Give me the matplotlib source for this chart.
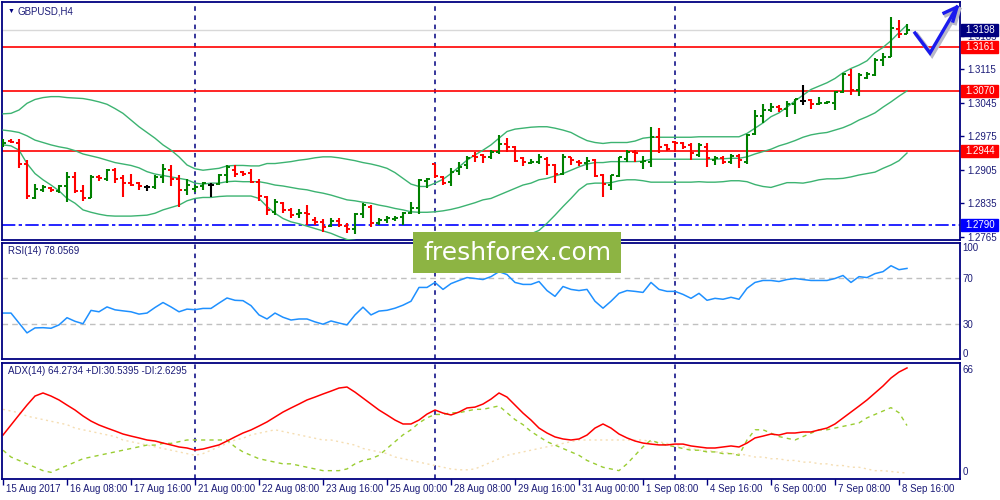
import matplotlib
matplotlib.use('Agg')
import matplotlib.pyplot as plt
import matplotlib.transforms as mtransforms
from matplotlib.patches import Rectangle
from matplotlib.lines import Line2D
import numpy as np

plt.rcParams['font.family'] = ['Liberation Sans', 'DejaVu Sans']

# GBPUSD H4 bars, 15 Aug 2017 00:00 .. 8 Sep 2017 20:00
opens = [1.2959, 1.2965, 1.2962, 1.2918, 1.2845, 1.2863, 1.2866, 1.2861, 1.2872, 1.2890,
         1.2861, 1.2845, 1.2890, 1.2885, 1.2904, 1.2887, 1.2877, 1.2877, 1.2868, 1.2868,
         1.2890, 1.2904, 1.2885, 1.2863, 1.2864, 1.2870, 1.2874, 1.2875, 1.2894, 1.2904,
         1.2900, 1.2899, 1.2880, 1.2849, 1.2817, 1.2836, 1.2821, 1.2812, 1.2815, 1.2800,
         1.2796, 1.2787, 1.2798, 1.2787, 1.2782, 1.2812, 1.2828, 1.2793, 1.2800, 1.2801,
         1.2807, 1.2815, 1.2826, 1.2882, 1.2917, 1.2890, 1.2880, 1.2903, 1.2915, 1.2934,
         1.2936, 1.2931, 1.2943, 1.2959, 1.2953, 1.2929, 1.2920, 1.2922, 1.2927, 1.2915,
         1.2897, 1.2931, 1.2922, 1.2920, 1.2925, 1.2894, 1.2873, 1.2892, 1.2927, 1.2943,
         1.2922, 1.2922, 1.2974, 1.2957, 1.2964, 1.2962, 1.2957, 1.2936, 1.2953, 1.2925,
         1.2929, 1.2922, 1.2934, 1.2922, 1.2980, 1.3017, 1.3031, 1.3037, 1.3032, 1.3042,
         1.3049, 1.3051, 1.3042, 1.3044, 1.3045, 1.3068, 1.3103, 1.3072, 1.3098, 1.3103,
         1.3134, 1.3141, 1.3199, 1.3190]
highs = [1.2969, 1.2969, 1.2969, 1.2925, 1.2875, 1.2873, 1.2868, 1.2873, 1.2900, 1.2901,
         1.2873, 1.2893, 1.2894, 1.2906, 1.2908, 1.2894, 1.2896, 1.2880, 1.2873, 1.2893,
         1.2917, 1.2915, 1.2894, 1.2885, 1.2873, 1.2880, 1.2877, 1.2897, 1.2914, 1.2915,
         1.2902, 1.2906, 1.2885, 1.2850, 1.2843, 1.2838, 1.2824, 1.2822, 1.2831, 1.2807,
         1.2801, 1.2803, 1.2803, 1.2793, 1.2815, 1.2835, 1.2831, 1.2803, 1.2808, 1.2808,
         1.2817, 1.2838, 1.2885, 1.2887, 1.2918, 1.2892, 1.2908, 1.2922, 1.2934, 1.2943,
         1.2938, 1.2946, 1.2978, 1.2972, 1.2955, 1.2932, 1.2927, 1.2938, 1.2931, 1.2918,
         1.2938, 1.2932, 1.2925, 1.2931, 1.2927, 1.2896, 1.2894, 1.2932, 1.2946, 1.2946,
         1.2934, 1.2995, 1.2992, 1.2959, 1.2965, 1.2964, 1.2960, 1.2962, 1.2960, 1.2934,
         1.2934, 1.2938, 1.2938, 1.2980, 1.3031, 1.3042, 1.3044, 1.3040, 1.3049, 1.3054,
         1.3082, 1.3052, 1.3058, 1.3049, 1.3070, 1.3108, 1.3115, 1.3108, 1.3110, 1.3138,
         1.3150, 1.3225, 1.3218, 1.3211]
lows = [1.2952, 1.2960, 1.2908, 1.2843, 1.2843, 1.2859, 1.2859, 1.2857, 1.2838, 1.2857,
        1.2840, 1.2845, 1.2882, 1.2882, 1.2878, 1.2849, 1.2870, 1.2863, 1.2861, 1.2865,
        1.2878, 1.2870, 1.2828, 1.2852, 1.2859, 1.2863, 1.2847, 1.2873, 1.2878, 1.2890,
        1.2892, 1.2878, 1.2840, 1.2810, 1.2810, 1.2814, 1.2803, 1.2803, 1.2789, 1.2789,
        1.2775, 1.2786, 1.2786, 1.2773, 1.2771, 1.2803, 1.2786, 1.2789, 1.2793, 1.2798,
        1.2789, 1.2812, 1.2812, 1.2866, 1.2887, 1.2873, 1.2870, 1.2894, 1.2906, 1.2922,
        1.2920, 1.2927, 1.2938, 1.2943, 1.2922, 1.2913, 1.2917, 1.2917, 1.2894, 1.2877,
        1.2894, 1.2915, 1.2913, 1.2904, 1.2889, 1.2849, 1.2863, 1.2890, 1.2922, 1.2922,
        1.2906, 1.2911, 1.2939, 1.2945, 1.2943, 1.2948, 1.2925, 1.2932, 1.2910, 1.2915,
        1.2918, 1.2918, 1.2908, 1.2918, 1.2978, 1.3002, 1.3026, 1.3026, 1.3016, 1.3022,
        1.3040, 1.3033, 1.3040, 1.3042, 1.3031, 1.3066, 1.3061, 1.3060, 1.3094, 1.3101,
        1.3122, 1.3140, 1.3180, 1.3188]
closes = [1.2962, 1.2963, 1.2918, 1.2850, 1.2865, 1.2868, 1.2863, 1.2871, 1.2890, 1.2861,
          1.2845, 1.2890, 1.2887, 1.2904, 1.2885, 1.2877, 1.2874, 1.2871, 1.2868, 1.2890,
          1.2906, 1.2885, 1.2863, 1.2873, 1.2868, 1.2877, 1.2874, 1.2895, 1.2911, 1.2897,
          1.2897, 1.2880, 1.2850, 1.2821, 1.2838, 1.2821, 1.2810, 1.2815, 1.2812, 1.2796,
          1.2786, 1.2798, 1.2789, 1.2782, 1.2812, 1.2831, 1.2793, 1.2800, 1.2803, 1.2805,
          1.2814, 1.2826, 1.2884, 1.2885, 1.2892, 1.2877, 1.2901, 1.2911, 1.2929, 1.2931,
          1.2931, 1.2943, 1.2959, 1.2953, 1.2924, 1.2922, 1.2922, 1.2932, 1.2915, 1.2896,
          1.2932, 1.2925, 1.2920, 1.2924, 1.2892, 1.2875, 1.2894, 1.2931, 1.2943, 1.2939,
          1.2923, 1.2974, 1.2953, 1.2948, 1.2962, 1.2952, 1.2939, 1.2957, 1.2929, 1.2930,
          1.2922, 1.2934, 1.2925, 1.2978, 1.3017, 1.3031, 1.3037, 1.3032, 1.3042, 1.3052,
          1.3049, 1.3042, 1.3044, 1.3046, 1.3068, 1.3105, 1.3072, 1.3103, 1.3105, 1.3134,
          1.3141, 1.3201, 1.3190, 1.3198]

# Bollinger bands as drawn on the chart
bb_upper = [1.3022, 1.3023, 1.3030, 1.3044, 1.3052, 1.3056, 1.3058, 1.3058, 1.3056, 1.3055,
            1.3054, 1.3051, 1.3047, 1.3042, 1.3033, 1.3023, 1.3009, 1.2995, 1.2983, 1.2971,
            1.2957, 1.2946, 1.2932, 1.2915, 1.2907, 1.2904, 1.2906, 1.2908, 1.2913, 1.2914,
            1.2914, 1.2913, 1.2913, 1.2918, 1.2918, 1.2920, 1.2922, 1.2925, 1.2927, 1.2930,
            1.2932, 1.2932, 1.2930, 1.2927, 1.2924, 1.2920, 1.2917, 1.2913, 1.2908, 1.2899,
            1.2887, 1.2875, 1.2870, 1.2870, 1.2877, 1.2885, 1.2897, 1.2911, 1.2925, 1.2936,
            1.2946, 1.2957, 1.2971, 1.2985, 1.2990, 1.2992, 1.2994, 1.2995, 1.2995, 1.2992,
            1.2988, 1.2983, 1.2974, 1.2966, 1.2962, 1.2960, 1.2962, 1.2962, 1.2962, 1.2965,
            1.2971, 1.2973, 1.2973, 1.2973, 1.2973, 1.2973, 1.2973, 1.2974, 1.2974, 1.2974,
            1.2974, 1.2974, 1.2974, 1.2981, 1.2992, 1.3003, 1.3016, 1.3024, 1.3036, 1.3049,
            1.3061, 1.3073, 1.3080, 1.3087, 1.3096, 1.3108, 1.3117, 1.3124, 1.3133, 1.3150,
            1.3161, 1.3175, 1.3192, 1.3208]
bb_middle = [1.2988, 1.2986, 1.2983, 1.2976, 1.2967, 1.2962, 1.2957, 1.2953, 1.2950, 1.2945,
             1.2938, 1.2934, 1.2930, 1.2925, 1.2920, 1.2917, 1.2914, 1.2909, 1.2901, 1.2896,
             1.2893, 1.2890, 1.2887, 1.2884, 1.2877, 1.2875, 1.2877, 1.2877, 1.2880, 1.2881,
             1.2880, 1.2880, 1.2880, 1.2877, 1.2873, 1.2871, 1.2868, 1.2865, 1.2863, 1.2859,
             1.2856, 1.2852, 1.2847, 1.2842, 1.2840, 1.2837, 1.2835, 1.2831, 1.2828, 1.2824,
             1.2821, 1.2817, 1.2816, 1.2816, 1.2817, 1.2819, 1.2822, 1.2826, 1.2831, 1.2836,
             1.2842, 1.2845, 1.2852, 1.2859, 1.2866, 1.2873, 1.2877, 1.2884, 1.2887, 1.2892,
             1.2897, 1.2904, 1.2911, 1.2917, 1.2920, 1.2920, 1.2922, 1.2922, 1.2922, 1.2922,
             1.2923, 1.2927, 1.2927, 1.2927, 1.2927, 1.2927, 1.2927, 1.2927, 1.2927, 1.2927,
             1.2928, 1.2929, 1.2929, 1.2932, 1.2938, 1.2943, 1.2948, 1.2955, 1.2960, 1.2966,
             1.2973, 1.2978, 1.2981, 1.2983, 1.2988, 1.2993, 1.3000, 1.3009, 1.3016, 1.3024,
             1.3036, 1.3047, 1.3059, 1.3070]
bb_lower = [1.2957, 1.2955, 1.2946, 1.2918, 1.2897, 1.2884, 1.2873, 1.2861, 1.2845, 1.2835,
            1.2821, 1.2816, 1.2812, 1.2809, 1.2808, 1.2808, 1.2808, 1.2809, 1.2810, 1.2814,
            1.2821, 1.2826, 1.2831, 1.2840, 1.2845, 1.2847, 1.2847, 1.2849, 1.2850, 1.2850,
            1.2850, 1.2850, 1.2845, 1.2828, 1.2814, 1.2803, 1.2796, 1.2792, 1.2787, 1.2782,
            1.2777, 1.2772, 1.2765, 1.2759, 1.2757, 1.2753, 1.2750, 1.2747, 1.2744, 1.2743,
            1.2741, 1.2741, 1.2743, 1.2743, 1.2743, 1.2743, 1.2744, 1.2746, 1.2747, 1.2748,
            1.2749, 1.2751, 1.2753, 1.2757, 1.2759, 1.2764, 1.2771, 1.2778, 1.2793, 1.2810,
            1.2828, 1.2845, 1.2863, 1.2875, 1.2877, 1.2877, 1.2878, 1.2882, 1.2884, 1.2884,
            1.2882, 1.2879, 1.2879, 1.2879, 1.2879, 1.2879, 1.2879, 1.2880, 1.2879, 1.2879,
            1.2880, 1.2882, 1.2882, 1.2880, 1.2874, 1.2870, 1.2868, 1.2873, 1.2878, 1.2878,
            1.2877, 1.2880, 1.2884, 1.2886, 1.2886, 1.2887, 1.2890, 1.2894, 1.2897, 1.2900,
            1.2908, 1.2915, 1.2924, 1.2940]

rsi = [39.6, 39.6, 31.0, 22.5, 26.8, 27.0, 26.5, 29.4, 35.6, 32.5,
       30.4, 41.9, 40.7, 44.9, 42.4, 41.5, 40.7, 38.7, 39.6, 44.4,
       48.7, 44.9, 40.7, 43.0, 42.5, 43.6, 43.6, 48.2, 52.6, 50.6,
       50.3, 46.0, 38.0, 34.5, 39.6, 36.0, 33.6, 34.5, 34.5, 32.0,
       30.0, 32.8, 31.0, 29.4, 38.0, 44.7, 38.0, 41.3, 42.0, 43.8,
       46.4, 49.8, 61.7, 61.7, 66.0, 60.0, 65.0, 67.7, 70.2, 69.4,
       68.5, 71.0, 75.3, 72.8, 66.0, 64.3, 64.3, 66.8, 59.0, 54.0,
       62.5, 60.0, 59.0, 60.0, 49.8, 43.8, 49.8, 56.6, 59.0, 58.3,
       57.4, 66.0, 60.0, 58.3, 58.3, 55.7, 52.3, 56.6, 50.6, 52.3,
       51.5, 53.2, 51.5, 60.9, 66.0, 67.7, 67.7, 66.8, 68.5, 69.4,
       68.5, 67.7, 67.7, 67.7, 69.4, 72.0, 66.0, 71.0, 70.2, 73.6,
       75.3, 80.4, 77.0, 78.1]

adx = [24.9, 30.8, 36.7, 42.5, 47.8, 49.6, 47.8, 45.5, 42.5, 39.6,
       36.1, 33.1, 30.8, 29.0, 27.3, 25.5, 24.3, 23.2, 22.0, 21.4,
       20.2, 19.1, 17.9, 17.3, 16.1, 16.7, 17.9, 19.1, 21.4, 23.8,
       26.1, 27.9, 30.2, 32.6, 35.5, 38.4, 40.8, 43.1, 45.5, 47.2,
       49.0, 50.7, 52.5, 53.1, 50.1, 46.6, 43.1, 39.6, 36.7, 33.7,
       31.4, 31.4, 33.7, 37.2, 39.6, 37.8, 36.7, 38.4, 40.8, 41.3,
       43.1, 46.0, 49.6, 47.2, 42.5, 37.8, 33.7, 29.0, 26.1, 23.8,
       22.6, 22.0, 22.6, 24.9, 29.0, 31.4, 29.0, 25.5, 23.2, 21.4,
       20.2, 19.6, 19.1, 19.1, 19.6, 19.6, 18.5, 17.9, 17.3, 17.3,
       17.9, 18.5, 17.9, 20.2, 23.2, 24.3, 25.5, 24.9, 26.1, 26.1,
       26.7, 26.7, 27.9, 29.0, 31.4, 34.9, 38.4, 41.9, 45.5, 49.6,
       53.7, 58.4, 61.9, 64.3]
plus_di = [16, 12, 10, 8, 6, 4, 3, 5, 7, 9,
           11, 12, 13, 14, 15, 16, 17, 18, 19, 19,
           20, 20, 21, 22, 22, 22, 22, 22, 22, 18,
           15, 13, 11, 10, 9, 8, 8, 7, 6, 5,
           4, 4, 4, 5, 8, 10, 11, 13, 17, 21,
           25, 28, 32, 35, 37, 37, 38, 38, 39, 40,
           40, 41, 42, 38, 34, 31, 27, 24, 21, 19,
           17, 15, 13, 10, 8, 6, 5, 4, 8, 13,
           18, 22, 20, 19, 18, 17, 16, 16, 15, 15,
           14, 14, 13, 22, 28, 28, 26, 24, 23, 22,
           24, 26, 28, 28, 29, 30, 31, 32, 35, 37,
           39, 41, 38, 30.5]
minus_di = [40, 39, 38, 36, 35, 34, 33, 32, 31, 29,
            28, 27, 26, 25, 24, 22, 21, 20, 19, 18,
            17, 16, 15, 14, 13, 14, 16, 18, 20, 22,
            23, 25, 26, 27, 28, 27, 26, 25, 24, 23,
            22, 22, 21, 20, 19, 17, 16, 15, 14, 12,
            11, 10, 9, 8, 7, 6, 5, 4.5, 4.5, 5,
            7, 9, 11, 13, 14, 15, 16, 17, 18, 19,
            20, 21, 22, 22, 22, 22, 22, 22, 22, 22,
            22, 21, 21, 20, 19, 18, 17, 16, 16, 15,
            15, 14, 14, 13, 12, 12, 11, 11, 10, 10,
            9, 9, 8, 8, 7, 7, 6, 6, 5, 4,
            4, 3.5, 3, 2.6]

levels_red = [1.3161, 1.3070, 1.2944]
level_blue = 1.2790
last_price = 1.3198
price_ticks = [1.2765, 1.2835, 1.2905, 1.2975, 1.3045, 1.3115, 1.3185]
week_starts = [24, 54, 84]
time_labels = ['15 Aug 2017', '16 Aug 08:00', '17 Aug 16:00', '21 Aug 00:00', '22 Aug 08:00',
               '23 Aug 16:00', '25 Aug 00:00', '28 Aug 08:00', '29 Aug 16:00', '31 Aug 00:00',
               '1 Sep 08:00', '4 Sep 16:00', '6 Sep 00:00', '7 Sep 08:00', '8 Sep 16:00']
time_label_bars = list(range(0, 113, 8))

NAVY = '#000080'
TXT = '#1c1c78'
W, H = 1000, 500
n = len(closes)
x = np.arange(n)

fig = plt.figure(figsize=(10, 5), dpi=100)


def rect(top, bottom, left=2, right=960):
    return [left / W, 1 - bottom / H, (right - left) / W, (bottom - top) / H]


ax = fig.add_axes(rect(2, 240))
ax_rsi = fig.add_axes(rect(243, 359))
ax_adx = fig.add_axes(rect(363, 479))

for a in (ax, ax_rsi, ax_adx):
    a.set_xlim(-0.125, 119.625)
    for s in a.spines.values():
        s.set_color(NAVY)
        s.set_linewidth(1.3)
    a.yaxis.tick_right()
    a.tick_params(axis='y', colors=NAVY, labelcolor=TXT, labelsize=7, length=3, pad=2, width=1)
    a.tick_params(axis='x', bottom=False, labelbottom=False)
    for w in week_starts:
        a.axvline(w, color=NAVY, lw=1.1, ls=(0, (3, 3)), zorder=1)

# ---- price panel
ax.set_ylim(1.2758, 1.3256)
ax.set_yticks(price_ticks)
ax.set_yticklabels(['%.4f' % t for t in price_ticks])
ax.axhline(last_price, color='#d8d8d8', lw=1, zorder=1)
for lv in levels_red:
    ax.axhline(lv, color='#ff0000', lw=1.2, zorder=2)
ax.axhline(level_blue, color='#0000ff', lw=1.2, ls=(0, (8, 2, 2, 2)), zorder=2)

ax.plot(x, bb_upper, color='#3cb371', lw=1, zorder=3)
ax.plot(x, bb_middle, color='#3cb371', lw=1, zorder=3)
ax.plot(x, bb_lower, color='#3cb371', lw=1, zorder=3)

cols = ['#008000' if c > o else ('#ff0000' if c < o else '#000000') for o, c in zip(opens, closes)]
ax.vlines(x, lows, highs, colors=cols, lw=1.5, zorder=4)
ax.hlines(opens, x - 0.38, x, colors=cols, lw=1.4, zorder=4)
ax.hlines(closes, x, x + 0.38, colors=cols, lw=1.4, zorder=4)

btrans = mtransforms.blended_transform_factory(ax.transAxes, ax.transData)
box_h = 0.0025
for lv, c in [(last_price, NAVY)] + [(lv, '#ff0000') for lv in levels_red] + [(level_blue, '#0000ff')]:
    ax.add_patch(Rectangle((1.001, lv - box_h / 2), 0.039, box_h, transform=btrans,
                           facecolor=c, edgecolor=c, clip_on=False, zorder=10))
    ax.text(1.0055, lv, '%.4f' % lv, transform=btrans, color='white', fontsize=7,
            va='center', ha='left', zorder=11, clip_on=False)

fig.text(8 / W, 1 - 11 / H, '\u25bc', fontsize=5, color=NAVY, va='center', ha='left')
fig.text(18 / W, 1 - 11 / H, 'GBPUSD,H4', fontsize=7, color=TXT, va='center', ha='left')

# ---- RSI panel
ax_rsi.set_ylim(0, 100)
ax_rsi.axhline(70, color='#c0c0c0', lw=1, ls=(0, (4, 3)))
ax_rsi.axhline(30, color='#c0c0c0', lw=1, ls=(0, (4, 3)))
ax_rsi.plot(x, rsi, color='#1e90ff', lw=1.1)
ax_rsi.set_yticks([100, 70, 30, 0])
ax_rsi.set_yticklabels(['100', '70', '30', '0'])
lbls = ax_rsi.get_yticklabels()
lbls[0].set_va('top')
lbls[3].set_va('bottom')
ax_rsi.tick_params(axis='y', length=0)
ax_rsi.text(0.006, 0.93, 'RSI(14) %.4f' % 78.0569, transform=ax_rsi.transAxes,
            fontsize=7, color=TXT, va='center', ha='left')

# ---- ADX panel
ax_adx.set_ylim(-0.9, 67.2)
ax_adx.plot(x, minus_di, color='#f5deb3', lw=1, ls=(0, (1.5, 2.5)))
ax_adx.plot(x, plus_di, color='#9acd32', lw=1, ls=(0, (3, 3)))
ax_adx.plot(x, adx, color='#ff0000', lw=1.1)
ax_adx.set_yticks([66, 0])
ax_adx.set_yticklabels(['66', '0'])
lbls = ax_adx.get_yticklabels()
lbls[0].set_va('top')
lbls[1].set_va('bottom')
ax_adx.tick_params(axis='y', length=0)
ax_adx.text(0.006, 0.935, 'ADX(14) 64.2734 +DI:30.5395 -DI:2.6295', transform=ax_adx.transAxes,
            fontsize=7, color=TXT, va='center', ha='left')

ax_adx.set_xticks(time_label_bars)
ax_adx.tick_params(axis='x', bottom=True, length=4, width=1, colors=NAVY, labelbottom=False)
xtrans = mtransforms.blended_transform_factory(ax_adx.transData, ax_adx.transAxes)
for b, lab in zip(time_label_bars, time_labels):
    ax_adx.text(b + 0.35, -0.085, lab, transform=xtrans, fontsize=7, color=TXT,
                va='center', ha='left', clip_on=False)

# ---- watermark
fig.add_artist(Rectangle((413 / W, 1 - 273 / H), 208 / W, 41 / H, transform=fig.transFigure,
                         facecolor='#8db443', edgecolor='none', zorder=20))
fig.text(517 / W, 1 - 253 / H, 'freshforex.com', fontsize=18, color='white', family='DejaVu Sans',
         ha='center', va='center', zorder=21)

# ---- hand drawn forecast arrow
arrow_x = [915, 930, 957]
arrow_y = [33, 53, 7]
head_x = [944, 957, 953]
head_y = [13, 7, 21]
for dx, dy, c, lw in [(2, 2, '#b8b8c8', 3.2), (0, 0, '#1a1aee', 2.4)]:
    fig.add_artist(Line2D([(v + dx) / W for v in arrow_x], [1 - (v + dy) / H for v in arrow_y],
                          transform=fig.transFigure, color=c, lw=lw, solid_joinstyle='miter', zorder=30))
    fig.add_artist(Line2D([(v + dx) / W for v in head_x], [1 - (v + dy) / H for v in head_y],
                          transform=fig.transFigure, color=c, lw=lw, zorder=30))

fig.savefig('out.png', dpi=100)
